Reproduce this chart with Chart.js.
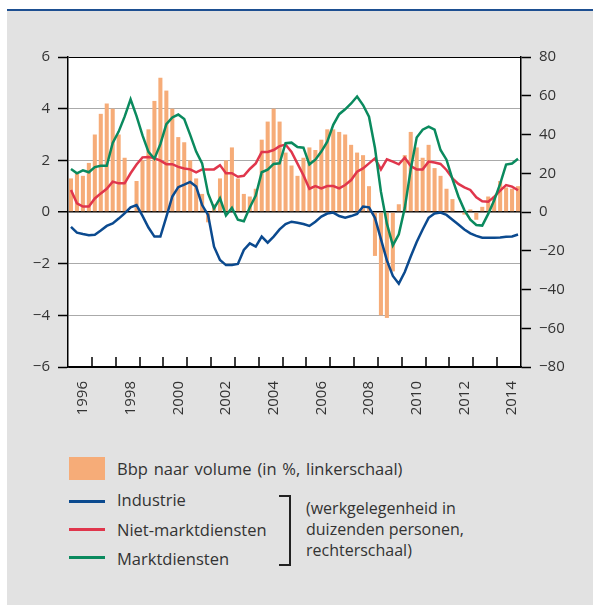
<!DOCTYPE html>
<html lang="nl">
<head>
<meta charset="UTF-8">
<title>Bbp en werkgelegenheid</title>
<script src="https://cdn.jsdelivr.net/npm/chart.js"></script>
<style>
    html, body { margin: 0; padding: 0; background: #fff; }
    body {
        width: 593px; height: 605px; position: relative; overflow: hidden;
        font-family: 'Open Sans', 'Noto Sans', sans-serif; color: #333;
    }
    .topline { position: absolute; left: 7px; right: 0; top: 9px; height: 2px; background: #1d4f91; }
    .panel { position: absolute; left: 7px; right: 0; top: 11px; bottom: 0; background: #e2e2e2; }
    .chart-box { position: absolute; left: 0; top: 0; width: 593px; height: 430px; }
    .lg { position: absolute; font-size: 16.5px; line-height: 21px; white-space: nowrap; }
    .lg.note { font-size: 16px; }
    .sw-bar { position: absolute; left: 69px; top: 457px; width: 36px; height: 23px; background: #f6ac78; }
    .sw-line { position: absolute; left: 69px; width: 36px; height: 3px; }
    .bracket { position: absolute; left: 279px; top: 495px; width: 10px; height: 67px;
               border: 2px solid #222; border-left: none; }
</style>
</head>
<body>
<div class="topline"></div>
<div class="panel"></div>
<div class="chart-box"><canvas id="chart"></canvas></div>

<span class="sw-bar"></span>
<div class="lg" style="left:117px; top:458px; word-spacing:1.5px">Bbp naar volume (in %, linkerschaal)</div>
<span class="sw-line" style="top:500px; background:#0b4a8f"></span>
<div class="lg" style="left:117px; top:489px">Industrie</div>
<span class="sw-line" style="top:528px; background:#e0364c"></span>
<div class="lg" style="left:117px; top:519px">Niet-marktdiensten</div>
<span class="sw-line" style="top:556px; background:#0a8a5e"></span>
<div class="lg" style="left:117px; top:548px">Marktdiensten</div>
<span class="bracket"></span>
<div class="lg note" style="left:306px; top:498px">(werkgelegenheid in<br>duizenden personen,<br>rechterschaal)</div>

<script>
    // Quarterly data 1996K1 - 2014K4
    const years = [1996, 1997, 1998, 1999, 2000, 2001, 2002, 2003, 2004, 2005,
                   2006, 2007, 2008, 2009, 2010, 2011, 2012, 2013, 2014];
    const quarters = years.flatMap(y => [y + 'K1', y + 'K2', y + 'K3', y + 'K4']);

    // Bbp naar volume (%, left axis)
    const bbp = [
        1.3, 1.5, 1.4, 1.9,   3.0, 3.8, 4.2, 4.0,   3.0, 2.1, 0.0, 1.2,
        2.0, 3.2, 4.3, 5.2,   4.7, 4.0, 2.9, 2.7,   2.0, 1.3, 0.7, -0.4,
        0.3, 1.3, 2.0, 2.5,   1.3, 0.7, 0.6, 0.9,   2.8, 3.5, 4.0, 3.5,
        2.3, 1.8, 1.4, 2.1,   2.5, 2.4, 2.8, 3.2,   3.2, 3.1, 3.0, 2.6,
        2.3, 2.2, 1.0, -1.7,  -4.0, -4.1, -2.3, 0.3,  2.2, 3.1, 2.5, 2.1,
        2.6, 1.7, 1.4, 0.9,   0.5, 0.0, -0.1, 0.1,  -0.3, 0.2, 0.6, 0.6,
        1.2, 0.95, 0.9, 1.0
    ];
    // Werkgelegenheid (duizenden personen, right axis)
    const industrie = [
        -7.7, -10.7, -11.4, -12.0,  -11.7, -9.6, -7.2, -5.9,  -3.4, -0.7, 2.4, 3.6,
        -2.0, -8.0, -12.7, -12.7,   -2.5, 8.0, 12.8, 14.1,    15.5, 13.1, 3.6, -1.5,
        -17.9, -24.8, -27.4, -27.4, -26.8, -19.6, -16.2, -17.9, -12.7, -15.8, -12.7, -9.0,
        -6.2, -5.0, -5.5, -6.2,     -7.2, -5.0, -2.4, -0.8,   -0.3, -2.1, -2.9, -2.1,
        -1.0, 2.8, 2.4, -3.0,       -14.0, -25.0, -33.0, -37.0, -31.0, -23.0, -15.5, -9.0,
        -3.0, -0.8, -0.3, -1.5,     -4.0, -6.5, -9.0, -11.0,  -12.3, -13.3, -13.3, -13.3,
        -13.1, -12.8, -12.6, -11.6
    ];
    const nietMarktdiensten = [
        11.4, 4.5, 2.8, 2.8,    7.0, 9.6, 12.0, 15.7,   14.8, 14.8, 20.0, 24.5,
        28.2, 28.4, 27.8, 26.5, 24.7, 24.7, 23.3, 22.5, 22.0, 20.5, 22.0, 22.0,
        22.0, 24.2, 20.0, 20.0, 18.2, 18.7, 22.2, 25.1, 31.0, 31.0, 32.0, 34.0,
        34.8, 31.0, 25.0, 19.0, 12.0, 13.4, 12.2, 13.4, 13.4, 12.2, 13.9, 16.5,
        20.8, 22.5, 25.1, 27.7, 22.0, 27.2, 26.0, 24.6, 28.0, 23.7, 22.0, 22.0,
        26.0, 25.5, 24.8, 21.7, 17.4, 14.5, 12.7, 11.4, 7.6, 5.5, 5.3, 7.8,
        11.0, 13.9, 13.1, 11.2
    ];
    const marktdiensten = [
        22.2, 20.0, 21.5, 20.5, 23.2, 23.9, 23.9, 35.6, 41.5, 49.2, 58.2, 49.5,
        39.5, 31.0, 27.5, 35.0, 45.3, 48.8, 50.3, 48.0, 39.8, 31.2, 25.1, 9.6,
        1.9, 7.1, -1.8, 2.1,    -4.0, -4.8, 2.3, 8.5,   20.5, 21.8, 24.8, 25.1,
        35.5, 35.8, 33.5, 33.2, 24.6, 27.0, 31.2, 36.3, 45.0, 50.5, 53.0, 56.0,
        59.6, 55.2, 49.2, 33.0, 10.5, -6.0, -17.2, -11.5, 2.0, 22.0, 38.5, 42.5,
        44.0, 42.5, 32.0, 27.0, 17.0, 8.0, 1.0, -4.0,   -6.7, -7.0, -1.0, 6.0,
        14.5, 24.5, 25.0, 27.5
    ];

    const tickFont = { family: "'Open Sans', 'Noto Sans', sans-serif", size: 15 };
    const minus = v => (v < 0 ? '\u2212' + Math.abs(v) : String(v));

    // white plot area
    const plotBackground = {
        id: 'plotBackground',
        beforeDraw(chart) {
            const { ctx, chartArea: a } = chart;
            ctx.save();
            ctx.fillStyle = '#fff';
            ctx.fillRect(a.left, a.top, a.right - a.left, a.bottom - a.top);
            ctx.restore();
        }
    };

    // short tick marks pointing up at each year boundary
    const yearTicks = {
        id: 'yearTicks',
        afterDatasetsDraw(chart) {
            const { ctx, chartArea: a, scales: { x } } = chart;
            ctx.save();
            ctx.strokeStyle = '#000';
            ctx.lineWidth = 1.5;
            ctx.beginPath();
            for (let k = 1; k < years.length; k++) {
                const px = Math.round(x.getPixelForValue(k * 4 - 0.5));
                ctx.moveTo(px, a.bottom);
                ctx.lineTo(px, a.bottom - 10);
            }
            ctx.stroke();
            ctx.restore();
        }
    };

    const ctx = document.getElementById('chart').getContext('2d');
    new Chart(ctx, {
        data: {
            labels: quarters,
            datasets: [
                {
                    type: 'line', label: 'Marktdiensten', data: marktdiensten, yAxisID: 'y2',
                    borderColor: '#0a8a5e', borderWidth: 2.5, pointRadius: 0, tension: 0, order: 1
                },
                {
                    type: 'line', label: 'Niet-marktdiensten', data: nietMarktdiensten, yAxisID: 'y2',
                    borderColor: '#e0364c', borderWidth: 2.5, pointRadius: 0, tension: 0, order: 2
                },
                {
                    type: 'line', label: 'Industrie', data: industrie, yAxisID: 'y2',
                    borderColor: '#0b4a8f', borderWidth: 2.5, pointRadius: 0, tension: 0, order: 3
                },
                {
                    type: 'bar', label: 'Bbp naar volume (in %, linkerschaal)', data: bbp, yAxisID: 'y',
                    backgroundColor: '#f6ac78', barPercentage: 0.68, categoryPercentage: 1, order: 4
                }
            ]
        },
        options: {
            responsive: true,
            maintainAspectRatio: false,
            animation: false,
            layout: { padding: { top: 57, left: 0, right: 0, bottom: 0 } },
            plugins: {
                legend: { display: false },
                tooltip: { enabled: false }
            },
            scales: {
                x: {
                    type: 'category',
                    offset: true,
                    grid: { display: false, drawTicks: false },
                    border: { display: true, color: '#000', width: 1.5 },
                    ticks: {
                        autoSkip: false,
                        maxRotation: 90,
                        minRotation: 90,
                        padding: 14,
                        color: '#333',
                        font: tickFont,
                        callback: (val, idx) => (idx % 8 === 2 ? quarters[idx].slice(0, 4) : '')
                    },
                    afterFit: s => { s.height = 63; }
                },
                y: {
                    position: 'left',
                    min: -6,
                    max: 6,
                    grid: {
                        color: c => (Math.abs(c.tick.value) === 6 || c.tick.value === 0 ? '#000' : '#aaa'),
                        lineWidth: c => (c.tick.value === 0 ? 1.5 : 1),
                        tickColor: '#000',
                        tickLength: 10,
                        tickWidth: 1.5
                    },
                    border: { display: true, color: '#000', width: 1.5 },
                    ticks: { stepSize: 2, padding: 8, color: '#333', font: tickFont, callback: minus },
                    afterFit: s => { s.width = 68; }
                },
                y2: {
                    position: 'right',
                    min: -80,
                    max: 80,
                    grid: { drawOnChartArea: false, tickColor: '#000', tickLength: 10, tickWidth: 1.5 },
                    border: { display: true, color: '#000', width: 1.5 },
                    ticks: { stepSize: 20, padding: 8, color: '#333', font: tickFont, callback: minus },
                    afterFit: s => { s.width = 72; }
                }
            }
        },
        plugins: [plotBackground, yearTicks]
    });
</script>
</body>
</html>
